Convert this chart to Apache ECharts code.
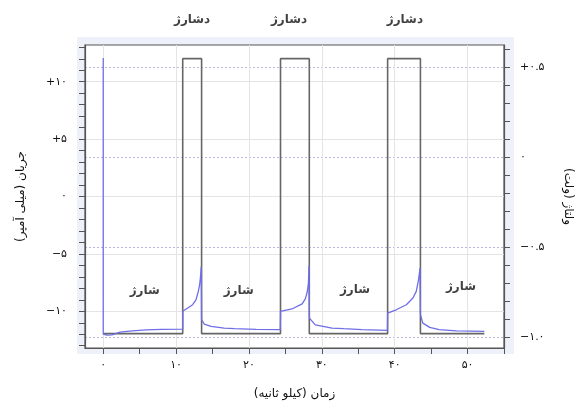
<!DOCTYPE html>
<html>
<head>
<meta charset="utf-8">
<script src="https://cdn.jsdelivr.net/npm/echarts@6/dist/echarts.min.js"></script>
<style>html,body{margin:0;padding:0;background:#fff}#c{width:582px;height:411px}</style>
</head>
<body>
<div id="c"></div>
<script>
// ---- data ----
var timeI = [0, 0, 0.5, 1.2, 2.3, 4, 5.9, 8, 10.9,
  10.91, 11.6, 12.27, 12.73, 13.05, 13.23, 13.35, 13.45, 13.5, 13.87, 14.8, 16.6, 18, 21, 24.3,
  24.33, 25.9, 27.3, 27.75, 28.0, 28.15, 28.25, 28.3, 29.1, 31.4, 33, 35.5, 39.0,
  39.03, 40.2, 41.6, 42.5, 42.96, 43.23, 43.35, 43.48, 43.53, 43.86, 44.8, 46.1, 48.5, 52.3];
var currentI = [12.06, -12.0, -12.08, -12.05, -11.82, -11.7, -11.62, -11.57, -11.55,
  -10.0, -9.72, -9.43, -9.0, -8.27, -7.69, -7.0, -6.1, -10.74, -11.12, -11.32, -11.46, -11.52, -11.58, -11.6,
  -10.0, -9.8, -9.35, -8.9, -8.3, -7.6, -6.04, -10.6, -11.18, -11.46, -11.52, -11.6, -11.67,
  -10.16, -9.87, -9.43, -8.85, -8.27, -7.4, -6.9, -6.24, -10.3, -11.03, -11.4, -11.6, -11.7, -11.76];
var timeV = [0, 10.91, 10.91, 13.5, 13.5, 24.33, 24.33, 28.28, 28.28, 39.03, 39.03, 43.53, 43.53, 52.3];
var voltage = [-0.98, -0.98, 0.548, 0.548, -0.98, -0.98, 0.548, 0.548, -0.98, -0.98, 0.548, 0.548, -0.98, -0.98];

var xTicks = [0, 5, 10, 15, 20, 25, 30, 35, 40, 45, 50, 55];
var xLabels = [0, 10, 20, 30, 40, 50];
var iTicks = [-13, -12, -11, -10, -9, -8, -7, -6, -5, -4, -3, -2, -1, 0, 1, 2, 3, 4, 5, 6, 7, 8, 9, 10, 11, 12, 13];
var iLabels = [-10, -5, 0, 5, 10];
var vTicks = [-1.0, -0.9, -0.8, -0.7, -0.6, -0.5, -0.4, -0.3, -0.2, -0.1, 0, 0.1, 0.2, 0.3, 0.4, 0.5, 0.6];
var vLabels = [-1.0, -0.5, 0, 0.5];

var chargeX = [5.7, 18.6, 34.55, 49.1];
var chargeY = [-8.2, -8.2, -8.1, -7.9];
var dischargeX = [12.2, 25.5, 41.4];
var dischargeY = [15.4, 15.4, 15.4];
var chargeText = 'شارژ';
var dischargeText = 'دشارژ';

// ---- helpers ----
function fa(s) {
  return String(s).replace(/[0-9]/g, function (d) { return '۰۱۲۳۴۵۶۷۸۹'[+d]; });
}
function fmtI(v) {
  if (v === 0) return '۰';
  return (v > 0 ? '+' : '−') + fa(Math.abs(v));
}
function fmtV(v) {
  if (Math.abs(v) < 1e-9) return '۰';
  return (v > 0 ? '+' : '−') + fa(Math.abs(v).toFixed(1));
}
function zip(a, b) { return a.map(function (x, i) { return [x, b[i]]; }); }

var FONT = 'DejaVu Sans';
var chart = echarts.init(document.getElementById('c'), null, { renderer: 'canvas' });
var axisCol = '#555';

var option = {
  animation: false,
  backgroundColor: '#fff',
  graphic: {
    elements: [{
      type: 'rect', z: -100, silent: true,
      shape: { x: 77, y: 37, width: 437, height: 317 },
      style: { fill: '#eef0fa' }
    }]
  },
  grid: {
    left: 85, top: 45, right: 75, bottom: 63,
    show: true, backgroundColor: '#fff', borderColor: axisCol, borderWidth: 1.2
  },
  xAxis: [{
    type: 'value', min: -2.5, max: 55, position: 'bottom',
    name: 'زمان (کیلو ثانیه)', nameLocation: 'middle', nameGap: 40,
    nameTextStyle: { fontFamily: FONT, fontSize: 12, color: '#111' },
    axisLine: { onZero: false, lineStyle: { color: axisCol, width: 1.2 } },
    axisTick: { show: true, inside: false, length: 6, customValues: xTicks, lineStyle: { color: axisCol } },
    axisLabel: { customValues: xLabels, margin: 12, fontFamily: FONT, fontSize: 11, color: '#111', formatter: function (v) { return fa(v); } },
    splitLine: { show: false }
  }, {
    type: 'value', min: -2.5, max: 55, position: 'bottom',
    axisLine: { show: false, onZero: false },
    axisTick: { show: false, customValues: xLabels },
    axisLabel: { show: false },
    splitLine: { show: true, lineStyle: { color: '#e4e4e4', width: 1 } }
  }],
  yAxis: [{
    type: 'value', min: -13.2, max: 13.2, position: 'left',
    name: 'جریان (میلی آمپر)', nameLocation: 'middle', nameGap: 58, nameRotate: 90,
    nameTextStyle: { fontFamily: FONT, fontSize: 12, color: '#111' },
    axisLine: { show: true, onZero: false, lineStyle: { color: axisCol, width: 1.2 } },
    axisTick: { show: true, length: 6, customValues: iTicks, lineStyle: { color: axisCol } },
    axisLabel: { customValues: iLabels, margin: 18, fontFamily: FONT, fontSize: 11, color: '#111', formatter: fmtI },
    splitLine: { show: false }
  }, {
    type: 'value', min: -1.06, max: 0.624, position: 'right',
    name: 'ولتاژ (ولت)', nameLocation: 'middle', nameGap: 58, nameRotate: -90,
    nameTextStyle: { fontFamily: FONT, fontSize: 12, color: '#111' },
    axisLine: { show: true, onZero: false, lineStyle: { color: axisCol, width: 1.2 } },
    axisTick: { show: true, length: 6, customValues: vTicks, lineStyle: { color: axisCol } },
    axisLabel: { customValues: vLabels, margin: 16, fontFamily: FONT, fontSize: 11, color: '#111', formatter: fmtV },
    splitLine: { show: false }
  }, {
    type: 'value', min: -13.2, max: 13.2, position: 'left',
    axisLine: { show: false, onZero: false }, axisLabel: { show: false },
    axisTick: { show: false, customValues: iLabels },
    splitLine: { show: true, lineStyle: { color: '#e4e4e4', width: 1 } }
  }, {
    type: 'value', min: -1.06, max: 0.624, position: 'right',
    axisLine: { show: false, onZero: false }, axisLabel: { show: false },
    axisTick: { show: false, customValues: vLabels },
    splitLine: { show: true, lineStyle: { color: '#b9b9e0', width: 1, type: [2, 2] } }
  }],
  series: [{
    type: 'line', name: 'voltage', xAxisIndex: 0, yAxisIndex: 1,
    data: zip(timeV, voltage), showSymbol: false, symbol: 'none', z: 3,
    lineStyle: { color: '#666', width: 1.6 }
  }, {
    type: 'line', name: 'current', xAxisIndex: 0, yAxisIndex: 0,
    data: zip(timeI, currentI), showSymbol: false, symbol: 'none', z: 4,
    lineStyle: { color: '#6e6ee6', width: 1.3 }
  }, {
    type: 'scatter', xAxisIndex: 0, yAxisIndex: 0, symbolSize: 0, clip: false, z: 5, silent: true,
    data: chargeX.map(function (x, i) { return { value: [x, chargeY[i]], name: chargeText }; })
      .concat(dischargeX.map(function (x, i) { return { value: [x, dischargeY[i]], name: dischargeText }; })),
    label: {
      show: true, position: 'inside', formatter: '{b}',
      fontFamily: FONT, fontWeight: 'bold', fontSize: 12, color: '#111'
    }
  }]
};
chart.setOption(option);
</script>
</body>
</html>
